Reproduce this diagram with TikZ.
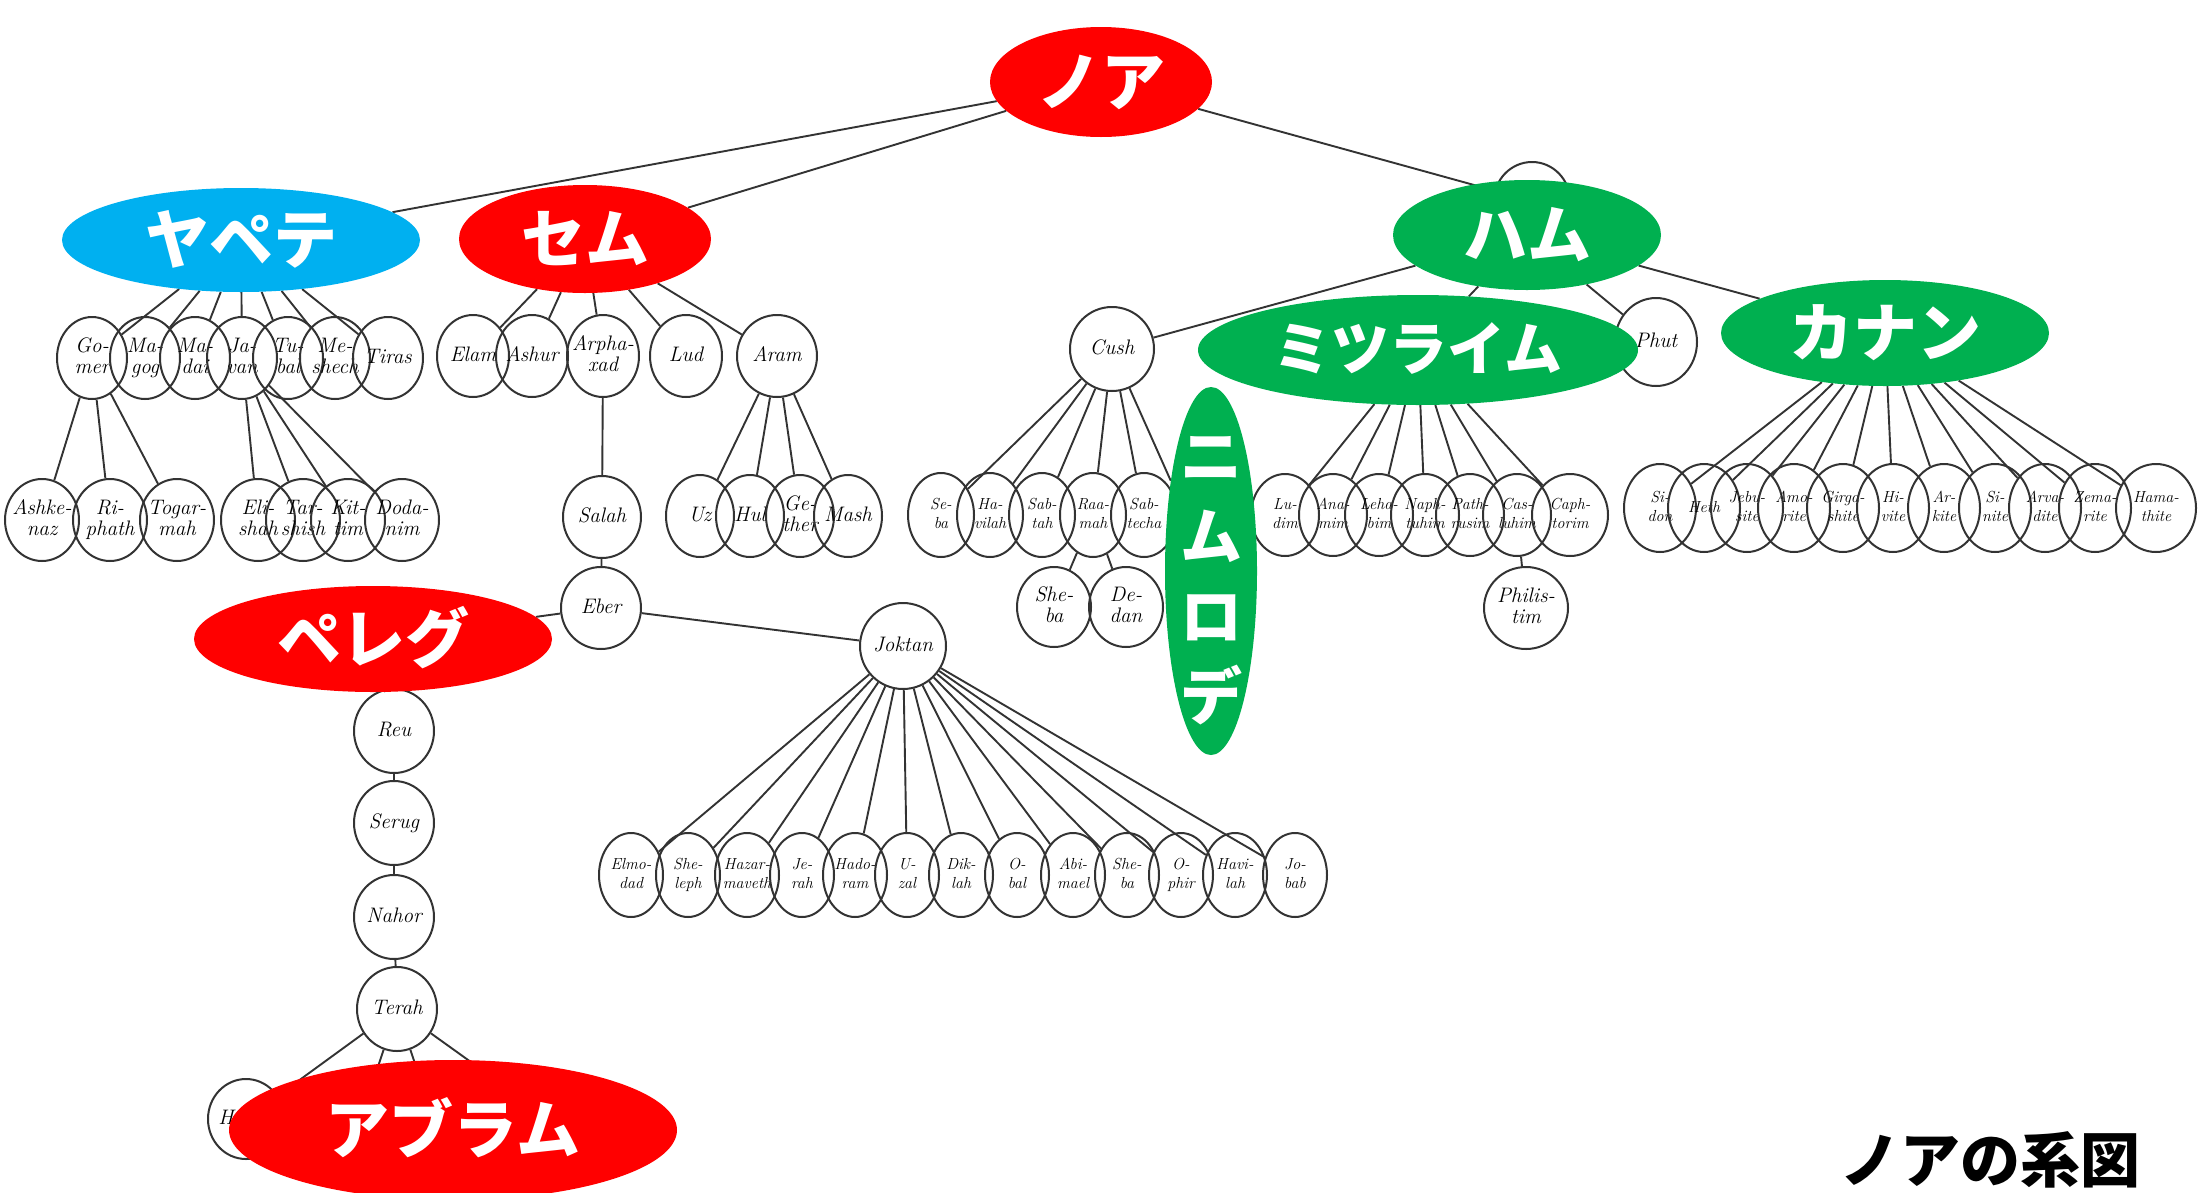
\documentclass[tikz,border=0pt]{standalone}
\usepackage{fontspec}
\newfontfamily\cjk{Noto Sans CJK JP}
\usetikzlibrary{shapes.geometric}
\pgfdeclarelayer{back}
\pgfdeclarelayer{bg}
\pgfsetlayers{back,bg,main}
\definecolor{myred}{HTML}{FF0000}
\definecolor{myblue}{HTML}{00B0F0}
\definecolor{mygreen}{HTML}{00B050}
\definecolor{ink}{HTML}{333333}
\newcommand\nm[1]{\smash{\makebox[0pt]{\raisebox{-.3em}{\begin{tabular}{@{}c@{}}#1\end{tabular}}}}}
\newcommand\jz[1]{\smash{\makebox[0pt]{\raisebox{-.36em}{#1}}}}
\begin{document}
\begin{tikzpicture}[x=1pt,y=-1pt,
  pp/.style={ellipse, draw=ink, line width=2pt, inner sep=0pt,
    minimum width=72pt, minimum height=82pt,
    font=\fontsize{21}{21}\selectfont\itshape},
  sm/.style={font=\fontsize{16}{19}\selectfont\itshape},
  cn/.style={draw=ink, line width=1.9pt},
  lab/.style={ellipse, fill=#1, text=white, inner sep=0pt,
    font=\cjk\bfseries\fontsize{64}{64}\selectfont},
]
\clip (0,0) rectangle (2201,1192);
\begin{pgfonlayer}{back}
\fill[white] (0,0) rectangle (2201,1192);
\end{pgfonlayer}

% ---------- Japheth line ----------
\foreach \n/\x/\t in {gomer/92/{Go-\\mer}, magog/145/{Ma-\\gog}, madai/195/{Ma-\\dai},
  javan/242/{Ja-\\van}, tubal/288/{Tu-\\bal}, meshech/335/{Me-\\shech}, tiras/388/{Tiras}}
  \node[pp, minimum width=70pt] (\n) at (\x,358) {\nm{\t}};
\foreach \n/\x/\t in {ashkenaz/42/{Ashke-\\naz}, riphath/110/{Ri-\\phath}, togarmah/177/{Togar-\\mah},
  elishah/258/{Eli-\\shah}, tarshish/303/{Tar-\\shish}, kittim/348/{Kit-\\tim}, dodanim/402/{Doda-\\nim}}
  \node[pp, minimum width=74pt] (\n) at (\x,520) {\nm{\t}};

% ---------- Shem line ----------
\foreach \n/\x/\t in {elam/473/{Elam}, ashur/532/{Ashur}, arphaxad/603/{Arpha-\\xad}, lud/686/{Lud}}
  \node[pp] (\n) at (\x,356) {\nm{\t}};
\node[pp, minimum width=80pt] (aram) at (777,356) {\nm{Aram}};
\foreach \n/\x/\t in {uz/700/{Uz}, hul/750/{Hul}, gether/800/{Ge-\\ther}, mash/848/{Mash}}
  \node[pp, minimum width=68pt] (\n) at (\x,516) {\nm{\t}};
\node[pp, minimum width=78pt] (salah) at (602,517) {\nm{Salah}};
\node[pp, minimum width=80pt] (eber) at (601,608) {\nm{Eber}};
\node[pp, minimum width=86pt, minimum height=86pt] (joktan) at (903,646) {\nm{Joktan}};
\foreach \n/\x/\t in {elmodad/631/{Elmo-\\dad}, sheleph/688/{She-\\leph}, hazarmaveth/747/{Hazar-\\maveth},
  jerah/802/{Je-\\rah}, hadoram/855/{Hado-\\ram}, uzal/907/{U-\\zal}, diklah/961/{Dik-\\lah},
  obal/1017/{O-\\bal}, abimael/1073/{Abi-\\mael}, shebaj/1127/{She-\\ba}, ophir/1181/{O-\\phir},
  havilahj/1235/{Havi-\\lah}, jobab/1295/{Jo-\\bab}}
  \node[pp, sm, minimum width=64pt, minimum height=84pt] (\n) at (\x,875) {\nm{\t}};
\foreach \n/\y/\t in {reu/731/{Reu}, serug/823/{Serug}, nahor/917/{Nahor}}
  \node[pp, minimum width=80pt, minimum height=84pt] (\n) at (394,\y) {\nm{\t}};
\node[pp, minimum width=80pt, minimum height=84pt] (terah) at (397,1009) {\nm{Terah}};
\node[pp, minimum width=76pt, minimum height=80pt] (haran) at (246,1119) {\nm{Haran}};

% ---------- Ham line ----------
\node[pp, minimum width=76pt, minimum height=78pt] (hamorig) at (1532,201) {};
\node[pp, minimum width=84pt, minimum height=84pt] (cush) at (1112,349) {\nm{Cush}};
\node[pp, minimum width=82pt, minimum height=88pt] (phut) at (1656,342) {\nm{Phut}};
\foreach \n/\x/\t in {seba/941/{Se-\\ba}, havilah/990/{Ha-\\vilah}, sabtah/1042/{Sab-\\tah},
  raamah/1093/{Raa-\\mah}, sabtechah/1144/{Sab-\\techa}}
  \node[pp, sm, minimum width=66pt, minimum height=84pt] (\n) at (\x,515) {\nm{\t}};
\node[pp, minimum width=74pt, minimum height=80pt] (sheba) at (1054,607) {\nm{She-\\ba}};
\node[pp, minimum width=74pt, minimum height=80pt] (dedan) at (1126,607) {\nm{De-\\dan}};
\foreach \n/\x/\t in {ludim/1285/{Lu-\\dim}, anamim/1333/{Ana-\\mim}, lehabim/1379/{Leha-\\bim},
  naphtuhim/1425/{Naph-\\tuhim}, pathrusim/1470/{Path-\\rusim}, casluhim/1517/{Cas-\\luhim}}
  \node[pp, sm, minimum width=68pt, minimum height=82pt] (\n) at (\x,515) {\nm{\t}};
\node[pp, sm, minimum width=76pt, minimum height=82pt] (caphtorim) at (1570,515) {\nm{Caph-\\torim}};
\node[pp, minimum width=84pt, minimum height=82pt] (philistim) at (1526,608) {\nm{Philis-\\tim}};
\foreach \n/\x/\t in {sidon/1660/{Si-\\don}, heth/1704/{Heth}, jebusite/1747/{Jebu-\\site},
  amorite/1794/{Amo-\\rite}, girgashite/1843/{Girga-\\shite}, hivite/1893/{Hi-\\vite},
  arkite/1944/{Ar-\\kite}, sinite/1995/{Si-\\nite}, arvadite/2045/{Arva-\\dite},
  zemarite/2095/{Zema-\\rite}}
  \node[pp, sm, minimum width=72pt, minimum height=88pt] (\n) at (\x,508) {\nm{\t}};
\node[pp, sm, minimum width=80pt, minimum height=88pt] (hamathite) at (2156,508) {\nm{Hama-\\thite}};

% ---------- coloured labels ----------
\node[lab=myred, minimum width=222pt, minimum height=110pt] (noah) at (1101,82) {\jz{ノア}};
\node[lab=myblue, minimum width=358pt, minimum height=104pt] (japheth) at (241,240) {\jz{ヤペテ}};
\node[lab=myred, minimum width=252pt, minimum height=108pt] (shem) at (585,239) {\jz{セム}};
\node[lab=mygreen, minimum width=268pt, minimum height=110pt] (ham) at (1527,235) {\jz{ハム}};
\node[lab=mygreen, minimum width=440pt, minimum height=110pt, font=\cjk\bfseries\fontsize{58}{58}\selectfont] (mizraim) at (1418,350) {\jz{ミツライム}};
\node[lab=mygreen, minimum width=328pt, minimum height=106pt] (canaan) at (1885,333) {\jz{カナン}};
\node[lab=mygreen, minimum width=92pt, minimum height=368pt, font=\cjk\bfseries\fontsize{62}{80}\selectfont] (nimrod) at (1211,571)
  {\smash{\makebox[0pt]{\raisebox{-.3em}{\begin{tabular}{@{}c@{}}ニ\\ム\\ロ\\デ\end{tabular}}}}};
\node[lab=myred, minimum width=358pt, minimum height=106pt] (peleg) at (373,639) {\jz{ペレグ}};
\node[lab=myred, minimum width=448pt, minimum height=140pt] (abram) at (453,1130) {\jz{アブラム}};
\node[font=\cjk\bfseries\fontsize{60}{60}\selectfont, inner sep=0pt] (title) at (1990,1160) {ノアの系図};

\coordinate (t1) at (372,1085);
\coordinate (t2) at (422,1085);
\coordinate (t3) at (496,1080);

% ---------- connectors ----------
\begin{pgfonlayer}{bg}
\draw[cn] (noah) -- (japheth);
\draw[cn] (noah) -- (shem);
\draw[cn] (noah) -- (hamorig);
\foreach \c in {gomer,magog,madai,javan,tubal,meshech,tiras} \draw[cn] (japheth) -- (\c);
\foreach \c in {ashkenaz,riphath,togarmah} \draw[cn] (gomer) -- (\c);
\foreach \c in {elishah,tarshish,kittim,dodanim} \draw[cn] (javan) -- (\c);
\foreach \c in {elam,ashur,arphaxad,lud,aram} \draw[cn] (shem) -- (\c);
\foreach \c in {uz,hul,gether,mash} \draw[cn] (aram) -- (\c);
\draw[cn] (arphaxad) -- (salah);
\draw[cn] (salah) -- (eber);
\draw[cn] (eber) -- (joktan);
\draw[cn] (eber) -- (peleg);
\foreach \c in {elmodad,sheleph,hazarmaveth,jerah,hadoram,uzal,diklah,obal,abimael,shebaj,ophir,havilahj,jobab}
  \draw[cn] (joktan) -- (\c);
\draw[cn] (peleg) -- (reu);
\draw[cn] (reu) -- (serug);
\draw[cn] (serug) -- (nahor);
\draw[cn] (nahor) -- (terah);
\draw[cn] (terah) -- (haran);
\draw[cn] (terah) -- (t1);
\draw[cn] (terah) -- (t2);
\draw[cn] (terah) -- (t3);
\foreach \c in {cush,mizraim,phut,canaan} \draw[cn] (ham) -- (\c);
\foreach \c in {seba,havilah,sabtah,raamah,sabtechah,nimrod} \draw[cn] (cush) -- (\c);
\draw[cn] (raamah) -- (sheba);
\draw[cn] (raamah) -- (dedan);
\foreach \c in {ludim,anamim,lehabim,naphtuhim,pathrusim,casluhim,caphtorim} \draw[cn] (mizraim) -- (\c);
\draw[cn] (casluhim) -- (philistim);
\foreach \c in {sidon,heth,jebusite,amorite,girgashite,hivite,arkite,sinite,arvadite,zemarite,hamathite}
  \draw[cn] (canaan) -- (\c);
\end{pgfonlayer}
\end{tikzpicture}
\end{document}
